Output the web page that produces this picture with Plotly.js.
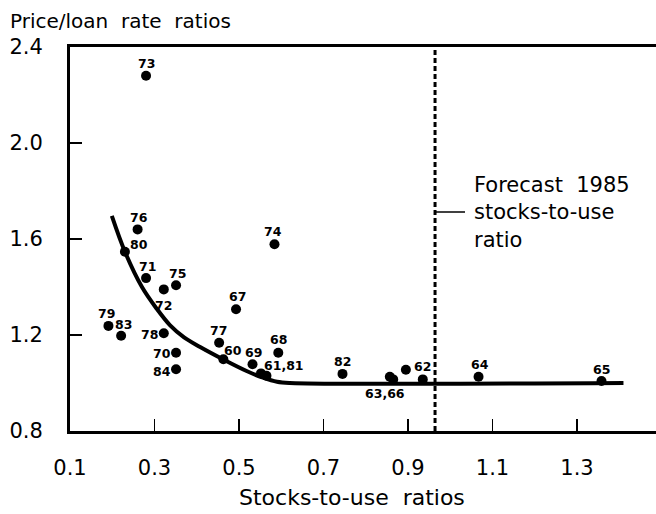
<!DOCTYPE html>
<html>
<head>
<meta charset="utf-8">
<script src="https://cdn.plot.ly/plotly-3.0.1.min.js"></script>
<style>
html,body{margin:0;padding:0;background:#fff;}
#chart{width:656px;height:514px;}
</style>
</head>
<body>
<div id="chart"></div>
<script>
// ---- data ----
const years = ["73","76","80","71","72","75","79","83","78","70","84","74","67","77","60","69","68","61","81","82","63","66","","62","64","65"];
const stocksToUse = [0.28,0.26,0.23,0.28,0.322,0.351,0.191,0.221,0.322,0.351,0.351,0.584,0.493,0.453,0.463,0.532,0.593,0.552,0.565,0.745,0.857,0.865,0.895,0.935,1.067,1.358];
const priceLoan = [2.28,1.64,1.547,1.437,1.39,1.407,1.238,1.197,1.207,1.126,1.057,1.578,1.307,1.168,1.099,1.078,1.126,1.04,1.03,1.038,1.026,1.015,1.055,1.015,1.026,1.008];
const pointLabels = ["73","76","80","71","72","75","79","83","78","70","84","74","67","77","60","69","68","61,81","","82","63,66","","","62","64","65"];

const curveX = [0.199,0.230,0.270,0.305,0.337,0.370,0.408,0.463,0.518,0.557,0.590,0.620,1.410];
const curveY = [1.696,1.547,1.401,1.310,1.240,1.190,1.150,1.098,1.050,1.022,1.005,1.000,1.000];

const forecastX = 0.964;
const xTicks = [0.1,0.3,0.5,0.7,0.9,1.1,1.3];
const yTicks = [0.8,1.2,1.6,2.0,2.4];

// ---- label placement (pixel offsets: dx right, dy down) ----
const labelDX = [0,1,14,1,0,1,-2,2,-14,-14,-14,-1,1,-1,10,1,0,23,0,0,-5,0,0,0,1,0];
const labelDY = [-12,-12,-7,-12,16,-12,-12,-11,1,1,2,-13,-13,-12,-9,-12,-13,-8,0,-12,17,0,0,-13,-12,-12];

const FONT = "DejaVu Sans, Arial, sans-serif";

const annotations = [];
pointLabels.forEach((t, i) => {
  if (!t) return;
  annotations.push({
    x: stocksToUse[i], y: priceLoan[i], xref: 'x', yref: 'y',
    text: t, showarrow: false,
    xshift: labelDX[i], yshift: -labelDY[i],
    xanchor: 'center', yanchor: 'middle',
    font: {family: FONT, size: 12.5, color: '#000', weight: 'bold'}
  });
});
annotations.push({
  x: 1.052, y: 1.712, xref: 'x', yref: 'y',
  text: 'Forecast  1985<br>stocks-to-use<br>ratio', align: 'left',
  showarrow: false, xanchor: 'left', yanchor: 'middle',
  font: {family: FONT, size: 21, color: '#000'}
});
annotations.push({
  x: -0.106, y: 1.068, xref: 'paper', yref: 'paper',
  text: 'Price/loan  rate  ratios', showarrow: false,
  xanchor: 'left', yanchor: 'middle',
  font: {family: FONT, size: 20, color: '#000'}
});
annotations.push({
  x: 0.481, y: -0.172, xref: 'paper', yref: 'paper',
  text: 'Stocks-to-use  ratios', showarrow: false,
  xanchor: 'center', yanchor: 'middle',
  font: {family: FONT, size: 22, color: '#000'}
});

const traces = [
  {x: curveX, y: curveY, mode: 'lines', type: 'scatter',
   line: {color: '#000', width: 4, shape: 'spline', smoothing: 1},
   hoverinfo: 'skip', showlegend: false},
  {x: stocksToUse, y: priceLoan, mode: 'markers', type: 'scatter',
   marker: {color: '#000', size: 10}, text: years,
   showlegend: false}
];

const layout = {
  width: 656, height: 514,
  margin: {l: 70, r: 0, t: 47, b: 83},
  paper_bgcolor: '#fff', plot_bgcolor: '#fff',
  showlegend: false,
  xaxis: {
    range: [0.1, 1.487], tickvals: xTicks, ticktext: xTicks.map(v => v.toFixed(1)),
    ticks: 'inside', ticklen: 12, tickwidth: 1.5, tickcolor: '#000',
    showline: true, linewidth: 3, linecolor: '#000', mirror: true,
    showgrid: false, zeroline: false, ticklabelstandoff: 16,
    tickfont: {family: FONT, size: 21, color: '#000'}
  },
  yaxis: {
    range: [0.8, 2.4], tickvals: yTicks, ticktext: yTicks.map(v => v.toFixed(1)),
    ticks: 'inside', ticklen: 12, tickwidth: 1.5, tickcolor: '#000',
    showline: true, linewidth: 3, linecolor: '#000', mirror: false,
    showgrid: false, zeroline: false, ticklabelstandoff: 20,
    tickfont: {family: FONT, size: 21, color: '#000'}
  },
  shapes: [
    {type: 'line', xref: 'x', yref: 'paper', x0: forecastX, x1: forecastX, y0: 0, y1: 1,
     line: {color: '#000', width: 3, dash: '5px,3px'}},
    {type: 'line', xref: 'x', yref: 'y', x0: forecastX, x1: 1.035, y0: 1.7125, y1: 1.7125,
     line: {color: '#000', width: 1.5}}
  ],
  annotations: annotations
};

Plotly.newPlot('chart', traces, layout, {displayModeBar: false, staticPlot: true});
</script>
</body>
</html>
